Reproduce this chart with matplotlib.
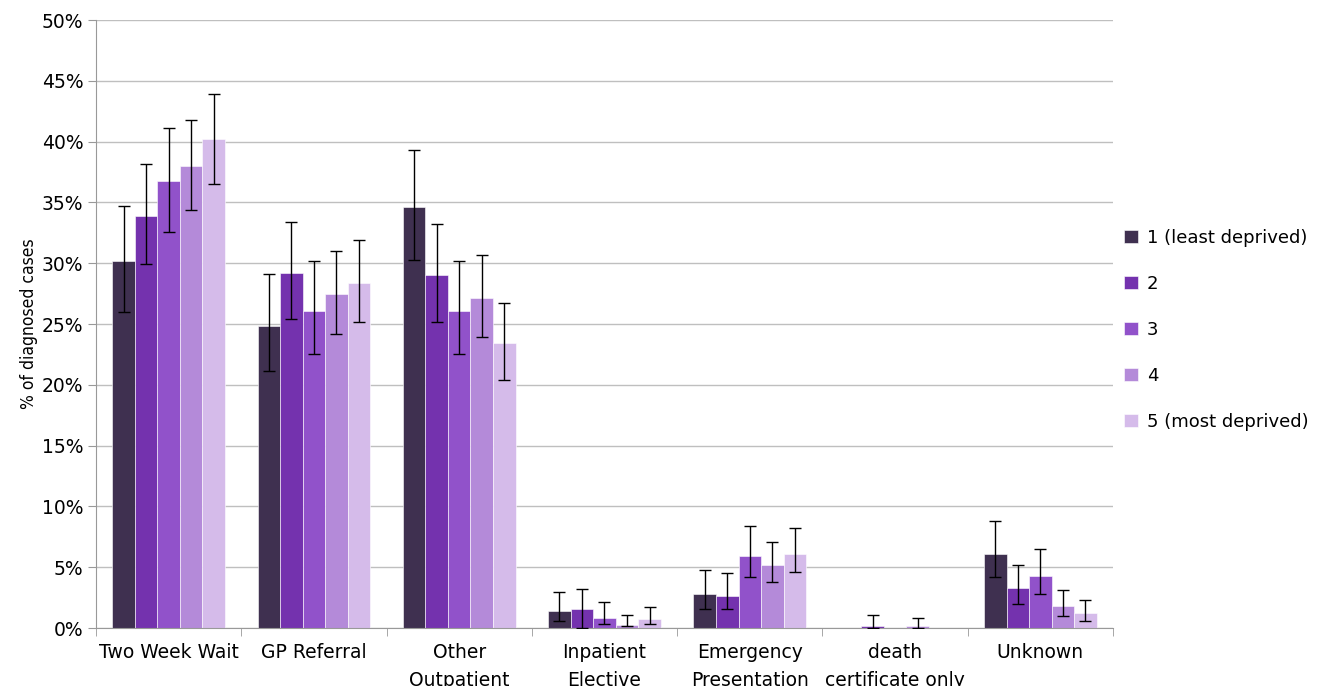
import numpy as np
import matplotlib.pyplot as plt
from matplotlib.ticker import PercentFormatter, FixedLocator

categories = ['Two Week Wait', 'GP Referral', 'Other\nOutpatient', 'Inpatient\nElective',
              'Emergency\nPresentation', 'death\ncertificate only', 'Unknown']
groups = ['1 (least deprived)', '2', '3', '4', '5 (most deprived)']
colors = ['#3F3050', '#7432AE', '#9152CA', '#B48AD9', '#D5BBEA']

# % of diagnosed cases, one list per deprivation quintile
q1 = [30.2, 24.8, 34.6, 1.4, 2.8, 0.0, 6.1]
q2 = [33.9, 29.2, 29.0, 1.6, 2.6, 0.2, 3.3]
q3 = [36.8, 26.1, 26.1, 0.8, 5.9, 0.0, 4.3]
q4 = [38.0, 27.5, 27.1, 0.25, 5.2, 0.15, 1.8]
q5 = [40.2, 28.4, 23.4, 0.75, 6.1, 0.0, 1.2]

# confidence interval bounds
lo1 = [26.0, 21.1, 30.3, 0.6, 1.6, 0.0, 4.2]
hi1 = [34.7, 29.1, 39.3, 3.0, 4.8, 0.0, 8.8]
lo2 = [29.9, 25.4, 25.2, 0.0, 1.6, 0.0, 2.0]
hi2 = [38.2, 33.4, 33.2, 3.2, 4.5, 1.1, 5.2]
lo3 = [32.6, 22.5, 22.5, 0.3, 4.2, 0.0, 2.8]
hi3 = [41.1, 30.2, 30.2, 2.1, 8.4, 0.0, 6.5]
lo4 = [34.4, 24.2, 23.9, 0.15, 3.8, 0.0, 1.0]
hi4 = [41.8, 31.0, 30.7, 1.1, 7.1, 0.8, 3.1]
lo5 = [36.5, 25.2, 20.4, 0.3, 4.6, 0.0, 0.6]
hi5 = [43.9, 31.9, 26.7, 1.7, 8.2, 0.0, 2.3]

values = [q1, q2, q3, q4, q5]
lows = [lo1, lo2, lo3, lo4, lo5]
highs = [hi1, hi2, hi3, hi4, hi5]

fig = plt.figure(figsize=(13.21, 6.86), dpi=100)
ax = fig.add_axes([0.0727, 0.0845, 0.7698, 0.8863])

x = np.arange(len(categories))
width = 0.155
for i in range(5):
    v = np.array(values[i])
    lo = np.array(lows[i])
    hi = np.array(highs[i])
    pos = x + (i - 2) * width
    ax.bar(pos, v, width, color=colors[i], label=groups[i], zorder=2,
           edgecolor='white', linewidth=0.4)
    has_err = (hi - lo) > 0
    ax.errorbar(pos[has_err], v[has_err],
                yerr=[v[has_err] - lo[has_err], hi[has_err] - v[has_err]],
                fmt='none', ecolor='black', elinewidth=1, capsize=4.5, capthick=1, zorder=3)

ax.set_xlim(-0.5, len(categories) - 0.5)
ax.set_ylim(0, 50)
ax.set_yticks(np.arange(0, 51, 5))
ax.yaxis.set_major_formatter(PercentFormatter(decimals=0))
ax.yaxis.grid(True, color='#BFBFBF', linewidth=1, zorder=0)
ax.set_axisbelow(True)

ax.set_xticks(x)
ax.set_xticklabels(categories, fontsize=13.5, va='top', linespacing=1.55)
ax.tick_params(axis='x', which='major', length=0, pad=11)
ax.xaxis.set_minor_locator(FixedLocator(np.arange(-0.5, len(categories), 1.0)))
ax.tick_params(axis='x', which='minor', length=6, color='#999999')
ax.tick_params(axis='y', length=6, color='#999999', labelsize=13.5, pad=3)

for s in ['top', 'right']:
    ax.spines[s].set_visible(False)
for s in ['left', 'bottom']:
    ax.spines[s].set_color('#999999')

ax.set_ylabel('% of diagnosed cases', fontsize=12.5, fontstretch='condensed',
              family=['DejaVu Sans'], labelpad=3)

ax.legend(loc='center left', bbox_to_anchor=(0.995, 0.49), frameon=False,
          fontsize=13, labelspacing=1.55, handlelength=0.75, handleheight=0.75,
          handletextpad=0.5)

fig.savefig('out.png', dpi=100)
